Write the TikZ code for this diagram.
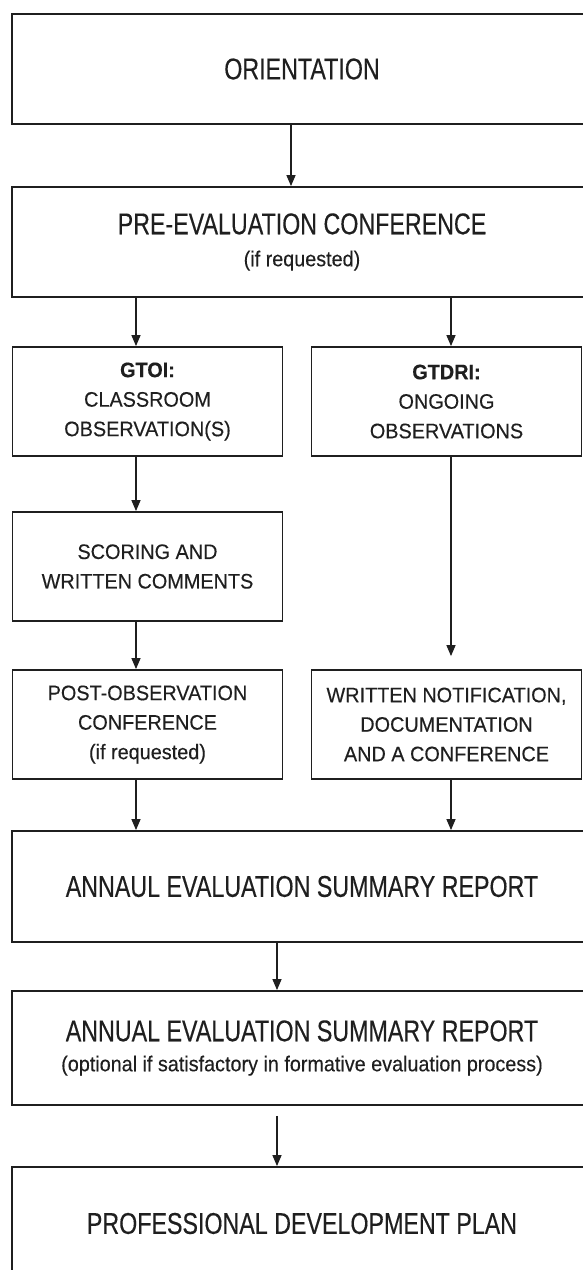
\documentclass[tikz,border=0pt]{standalone}
\usepackage{fontspec}
\setmainfont{Liberation Sans}
\newfontfamily\headface[FakeStretch=0.775,FakeBold=0.3]{Liberation Sans}
\newfontfamily\subface[FakeStretch=0.92,FakeBold=0.3]{Liberation Sans}
\newfontfamily\colface[FakeStretch=0.945,FakeBold=0.3]{Liberation Sans}
\usetikzlibrary{arrows.meta}
\newcommand\headtext{\headface\fontsize{30}{30}\selectfont}
\newcommand\subtext{\subface\fontsize{21.5}{31}\selectfont}
\newcommand\coltext{\colface\fontsize{21}{29.5}\selectfont}

\begin{document}
\begin{tikzpicture}[x=1pt,y=-1pt,
  box/.style={draw=black!88, line width=1.8pt, rectangle, inner sep=0pt,
    align=center, text=black!88},
  wide/.style={box, minimum width=580pt, font=\headtext},
  col/.style={box, minimum width=270pt, minimum height=109pt, font=\coltext},
  link/.style={draw=black!88, line width=1.4pt,
    -{Triangle[width=9pt,length=11pt]}}]

\useasboundingbox (0,0) rectangle (582,1270);

% vertical lanes of the connectors
\coordinate (mid)   at (291,0);
\coordinate (left)  at (136,0);
\coordinate (right) at (451,0);
\coordinate (low)   at (277,0);

% full-width stages
\node[wide, minimum height=110pt] (orient) at (302,69) {ORIENTATION};
\node[wide, minimum height=110pt] (pre) at (302,242)
  {PRE-EVALUATION CONFERENCE\\[2pt]{\subtext (if requested)}};

% two parallel tracks
\node[col] (gtoi)   at (147.5,401.5) {\bfseries GTOI:\\CLASSROOM\\OBSERVATION(S)};
\node[col] (gtdri)  at (446.5,401.5) {\bfseries GTDRI:\\ONGOING\\OBSERVATIONS};
\node[col] (score)  at (147.5,566.5) {SCORING AND\\WRITTEN COMMENTS};
\node[col] (post)   at (147.5,724.5) {POST-OBSERVATION\\CONFERENCE\\(if requested)};
\node[col] (notice) at (446.5,724.5)
  {WRITTEN NOTIFICATION,\\DOCUMENTATION\\AND A CONFERENCE};

% closing stages
\node[wide, minimum height=111pt] (annaul) at (302,886.5)
  {ANNAUL EVALUATION SUMMARY REPORT};
\node[wide, minimum height=114pt] (annual) at (302,1048)
  {\raisebox{-3pt}{ANNUAL EVALUATION SUMMARY REPORT}\\{\subtext\raisebox{-3pt}{(optional if satisfactory in formative evaluation process)}}};
\node[wide, minimum height=113pt] (plan) at (302,1223.5)
  {PROFESSIONAL DEVELOPMENT PLAN};

% connectors
\draw[link] (orient.south -| mid) -- (pre.north -| mid);
\draw[link] (pre.south -| left) -- (gtoi.north -| left);
\draw[link] (pre.south -| right) -- (gtdri.north -| right);
\draw[link] (gtoi.south -| left) -- (score.north -| left);
\draw[link] (score.south -| left) -- (post.north -| left);
\draw[link, shorten >=13pt] (gtdri.south -| right) -- (notice.north -| right);
\draw[link] (post.south -| left) -- (annaul.north -| left);
\draw[link] (notice.south -| right) -- (annaul.north -| right);
\draw[link] (annaul.south -| low) -- (annual.north -| low);
\draw[link, shorten <=10pt] (annual.south -| low) -- (plan.north -| low);
\end{tikzpicture}
\end{document}
